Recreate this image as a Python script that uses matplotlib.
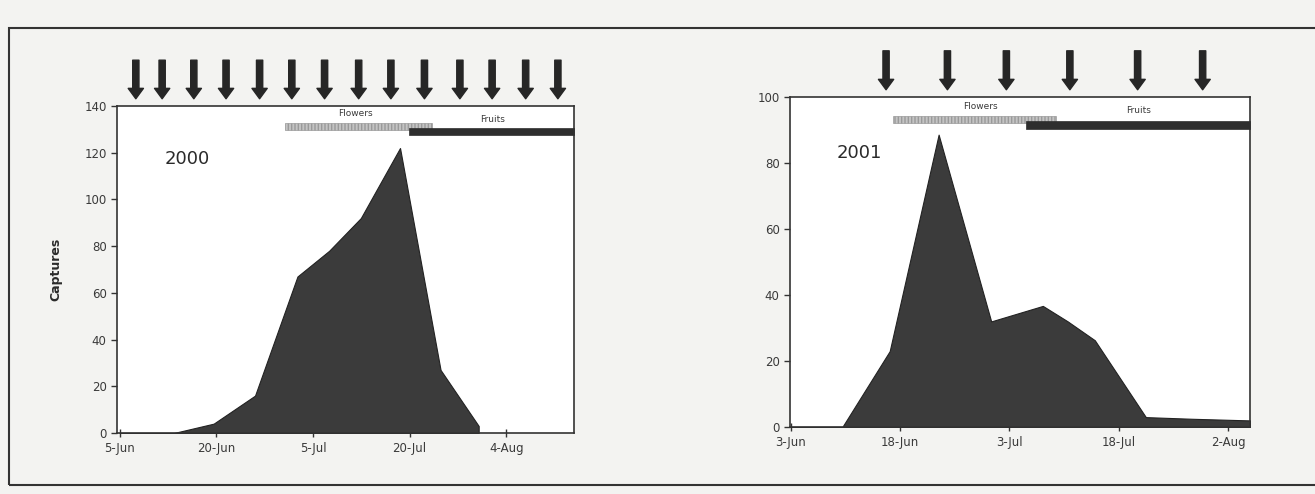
import numpy as np
import matplotlib
matplotlib.use('Agg')
import matplotlib.pyplot as plt
import matplotlib.dates as mdates
from matplotlib.patches import Rectangle

plt.rcParams.update({'font.family': 'DejaVu Sans', 'font.size': 8})

# 2000 season
dates_2000 = np.array(['2000-06-05', '2000-06-13T10', '2000-06-19T14', '2000-06-26', '2000-07-02T14',
                       '2000-07-07T12', '2000-07-12T10', '2000-07-18T12', '2000-07-24T19', '2000-07-30T17'],
                      dtype='datetime64[h]')
captures_2000 = [0, 0, 4, 16, 67, 78, 92, 122, 27, 3]
samples_2000 = np.array(['2000-06-07T12', '2000-06-11T14', '2000-06-16T12', '2000-06-21T12', '2000-06-26T17',
                         '2000-07-01T17', '2000-07-06T19', '2000-07-12T02', '2000-07-17T02', '2000-07-22T07',
                         '2000-07-27T19', '2000-08-01T19', '2000-08-07', '2000-08-12'], dtype='datetime64[h]')
ticks_2000 = np.array(['2000-06-05', '2000-06-20', '2000-07-05', '2000-07-20', '2000-08-04'], dtype='datetime64[D]')
ticklabels_2000 = ['5-Jun', '20-Jun', '5-Jul', '20-Jul', '4-Aug']
xlim_2000 = np.array(['2000-06-04T14', '2000-08-14T12'], dtype='datetime64[h]')
flowers_2000 = np.array(['2000-06-30T17', '2000-07-23T12'], dtype='datetime64[h]')
fruits_2000 = np.array(['2000-07-19T22', '2000-08-14T12'], dtype='datetime64[h]')

# 2001 season
dates_2001 = np.array(['2001-06-03', '2001-06-10T02', '2001-06-16T14', '2001-06-23T07', '2001-06-30T12',
                       '2001-07-07T14', '2001-07-11', '2001-07-14T17', '2001-07-21T17', '2001-07-28',
                       '2001-08-05'], dtype='datetime64[h]')
captures_2001 = [0, 0, 23, 88.6, 32, 36.7, 32, 26.3, 3, 2.5, 2]
samples_2001 = np.array(['2001-06-16T02', '2001-06-24T12', '2001-07-02T14', '2001-07-11T07',
                         '2001-07-20T14', '2001-07-29T12'], dtype='datetime64[h]')
ticks_2001 = np.array(['2001-06-03', '2001-06-18', '2001-07-03', '2001-07-18', '2001-08-02'], dtype='datetime64[D]')
ticklabels_2001 = ['3-Jun', '18-Jun', '3-Jul', '18-Jul', '2-Aug']
xlim_2001 = np.array(['2001-06-02T22', '2001-08-05'], dtype='datetime64[h]')
flowers_2001 = np.array(['2001-06-17', '2001-07-09T10'], dtype='datetime64[h]')
fruits_2001 = np.array(['2001-07-05T07', '2001-08-05'], dtype='datetime64[h]')

BG = '#f3f3f1'
FILL = '#3b3b3b'
TXT = '#3a3a3a'

fig = plt.figure(figsize=(13.15, 4.94), dpi=100, facecolor=BG)

# outer frame of the scanned figure
fig.patches.append(Rectangle((0.007, 0.018), 1.2, 0.925, transform=fig.transFigure,
                             fill=False, edgecolor='#333333', linewidth=1.5))


def num(d):
    return mdates.date2num(d.astype('datetime64[s]').astype(object))


def panel(rect, dates, values, samples, ticks, ticklabels, xlim, ylim, ystep,
          flowers, fruits, bar_y, bar_h, labels, year, year_xy, ylabel=None):
    ax = fig.add_axes(rect)
    ax.set_facecolor('white')
    x = dates.astype('datetime64[s]').astype(object)
    ax.fill_between(x, values, 0, color=FILL, edgecolor='#222222', linewidth=0.8, zorder=2)
    ax.set_xlim(num(xlim[0]), num(xlim[1]))
    ax.set_ylim(*ylim)
    ax.set_yticks(np.arange(0, ylim[1] + 1, ystep))
    ax.set_xticks([num(t) for t in ticks])
    ax.set_xticklabels(ticklabels)
    ax.tick_params(colors='#333333', labelcolor=TXT, length=4, width=1, labelsize=8.5)
    ax.tick_params(axis='x', direction='inout', length=6)
    for s in ax.spines.values():
        s.set_color('#333333')
        s.set_linewidth(1.2)

    # flowering / fruiting periods
    f0, f1 = num(flowers[0]), num(flowers[1])
    r0, r1 = num(fruits[0]), num(fruits[1])
    ax.add_patch(Rectangle((f0, bar_y[0] - bar_h / 2), f1 - f0, bar_h, facecolor='#c4c4c4',
                           edgecolor='#9a9a9a', hatch='|||||', linewidth=0.5, zorder=3, clip_on=False))
    ax.add_patch(Rectangle((r0, bar_y[1] - bar_h / 2), r1 - r0, bar_h, facecolor='#2e2e2e',
                           edgecolor='#2e2e2e', linewidth=0.5, zorder=4, clip_on=False))
    ax.text(num(labels[0][0]), labels[0][1], 'Flowers', ha='center', va='center', fontsize=6.5, color=TXT)
    ax.text(num(labels[1][0]), labels[1][1], 'Fruits', ha='center', va='center', fontsize=6.5, color=TXT)

    ax.text(num(year_xy[0]), year_xy[1], year, ha='left', va='center', fontsize=13, color='#2a2a2a')

    # sampling dates
    for d in samples:
        xd = num(d)
        ax.annotate('', xy=(xd, 1.022), xytext=(xd, 1.14),
                    xycoords=('data', 'axes fraction'), textcoords=('data', 'axes fraction'),
                    arrowprops=dict(facecolor='#262626', edgecolor='#262626', width=4.5,
                                    headwidth=11, headlength=7.5), annotation_clip=False)
    if ylabel:
        ax.set_ylabel(ylabel, fontsize=9, fontweight='bold', color='#2a2a2a', labelpad=16)
    return ax


panel([0.089, 0.1235, 0.3475, 0.662], dates_2000, captures_2000, samples_2000,
      ticks_2000, ticklabels_2000, xlim_2000, (0, 140), 20,
      flowers_2000, fruits_2000, (131.2, 129.0), 3.0,
      [(np.datetime64('2000-07-11T14'), 136.8), (np.datetime64('2000-08-01T22'), 134.3)],
      '2000', (np.datetime64('2000-06-11T22'), 117.5), ylabel='Captures')

panel([0.6008, 0.1356, 0.3498, 0.668], dates_2001, captures_2001, samples_2001,
      ticks_2001, ticklabels_2001, xlim_2001, (0, 100), 20,
      flowers_2001, fruits_2001, (93.1, 91.5), 2.2,
      [(np.datetime64('2001-06-29T02'), 97.2), (np.datetime64('2001-07-20T17'), 95.9)],
      '2001', (np.datetime64('2001-06-09T07'), 83))

fig.savefig('out.png', dpi=100, facecolor=BG)
